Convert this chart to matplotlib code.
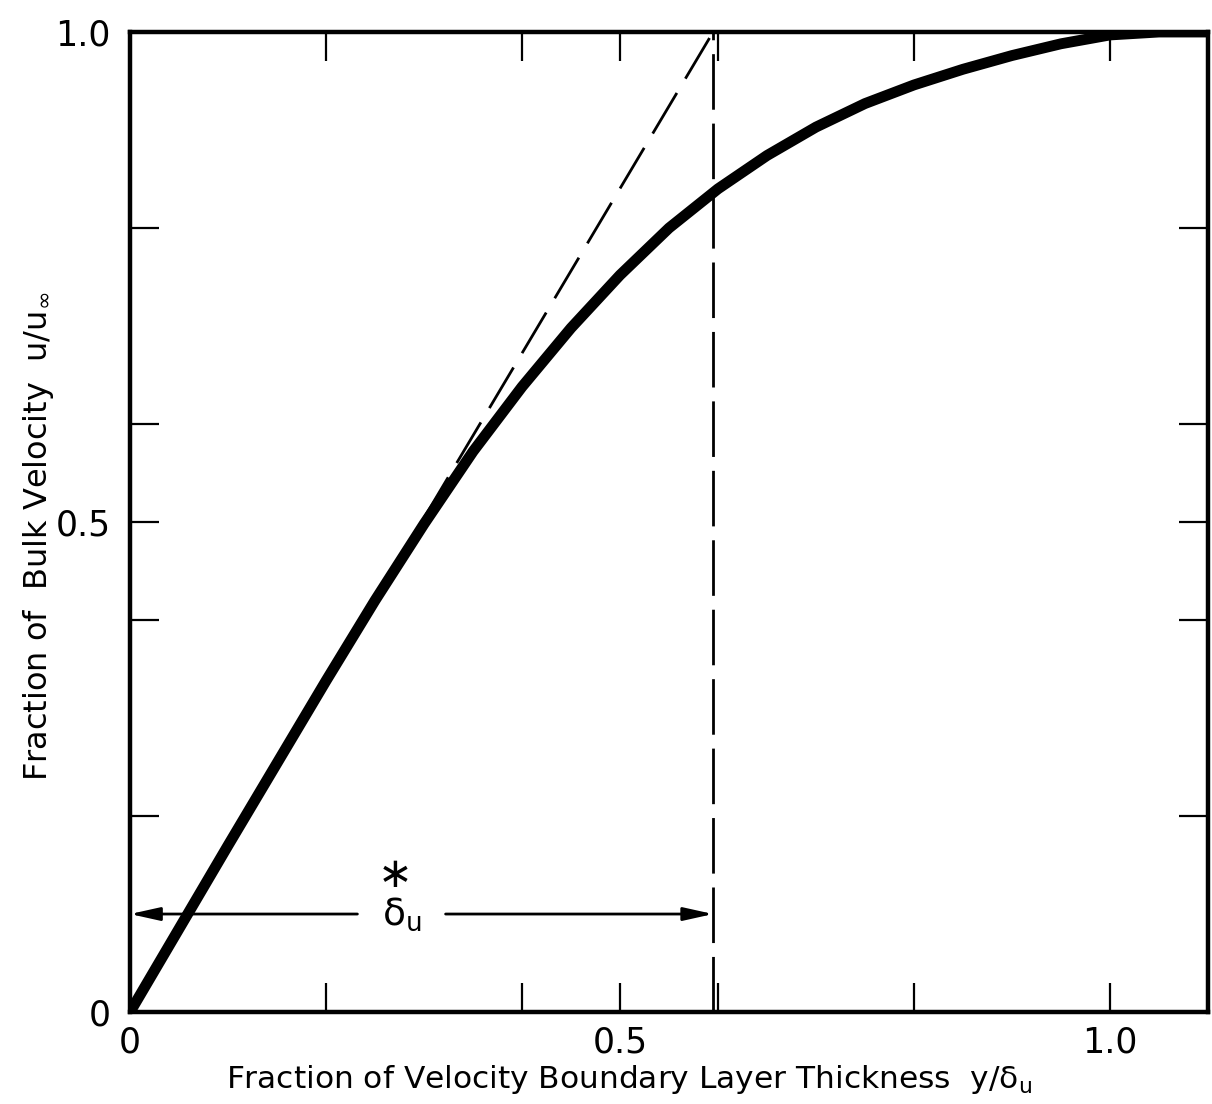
import matplotlib
matplotlib.use('Agg')
from matplotlib import pyplot as plt

matplotlib.rcParams['font.family'] = 'DejaVu Sans'
matplotlib.rcParams['mathtext.default'] = 'regular'

#%% Data: boundary layer velocity profile
y_frac = [0.0, 0.05, 0.10, 0.15, 0.20, 0.25, 0.30, 0.35, 0.40, 0.45, 0.50, 0.55,
          0.60, 0.65, 0.70, 0.75, 0.80, 0.85, 0.90, 0.95, 1.00, 1.05, 1.10]
u_frac = [0.0, 0.085, 0.170, 0.254, 0.338, 0.420, 0.498, 0.572, 0.638, 0.698, 0.752, 0.800,
          0.840, 0.874, 0.903, 0.927, 0.946, 0.962, 0.976, 0.988, 0.997, 1.0, 1.0]

delta_star = 0.595      # displacement thickness, fraction of delta_u
arrow_level = 0.10

x_major = [0, 0.5, 1.0]
x_minor = [0.2, 0.4, 0.6, 0.8]
y_major = [0, 0.5, 1.0]
y_minor = [0.2, 0.4, 0.6, 0.8]
major_labels = ['0', '0.5', '1.0']

#%% Plot
fig = plt.figure(figsize=(12.12, 11.04), dpi=100)
ax = fig.add_axes([0.1073, 0.0833, 0.8894, 0.8877])

ax.plot(y_frac, u_frac, color='k', lw=7.8, solid_capstyle='round', solid_joinstyle='round', zorder=3)

# tangent at the wall and the delta* marker
ax.plot([0, delta_star], [0, 1.0], color='k', lw=2.0, dashes=(17, 6), zorder=2)
ax.plot([delta_star, delta_star], [0, 1.0], color='k', lw=2.0, dashes=(20, 5), zorder=2)

arrow_kw = dict(arrowstyle='-|>,head_length=1.8,head_width=0.4', color='k', lw=2.0,
                shrinkA=0, shrinkB=0)
ax.annotate('', xy=(0.0, arrow_level), xytext=(0.232, arrow_level), arrowprops=arrow_kw)
ax.annotate('', xy=(delta_star, arrow_level), xytext=(0.322, arrow_level), arrowprops=arrow_kw)
ax.text(0.277, arrow_level, r'$\delta_u$', fontsize=27, ha='center', va='center')
ax.text(0.270, arrow_level + 0.04, '\u2217', fontsize=30, ha='center', va='center')

ax.set_xlim(0, 1.1)
ax.set_ylim(0, 1.0)

ax.set_xticks(x_major)
ax.set_xticklabels(major_labels)
ax.set_xticks(x_minor, minor=True)
ax.set_yticks(y_major)
ax.set_yticklabels(major_labels)
ax.set_yticks(y_minor, minor=True)

ax.tick_params(which='both', direction='in', top=True, right=True, length=21, width=1.6)
ax.tick_params(axis='x', which='major', labelsize=25, pad=10)
ax.tick_params(axis='y', which='major', labelsize=25, pad=14)

for sp in ax.spines.values():
    sp.set_linewidth(3.2)

fig.text(0.519, 0.022, r'Fraction of Velocity Boundary Layer Thickness  $y/\delta_u$',
         fontsize=22.5, ha='center', va='center')
fig.text(0.032, 0.514, r'Fraction of  Bulk Velocity  $u/u_\infty$',
         fontsize=23, ha='center', va='center', rotation=90)

plt.savefig('out.png', dpi=100)
plt.close()
